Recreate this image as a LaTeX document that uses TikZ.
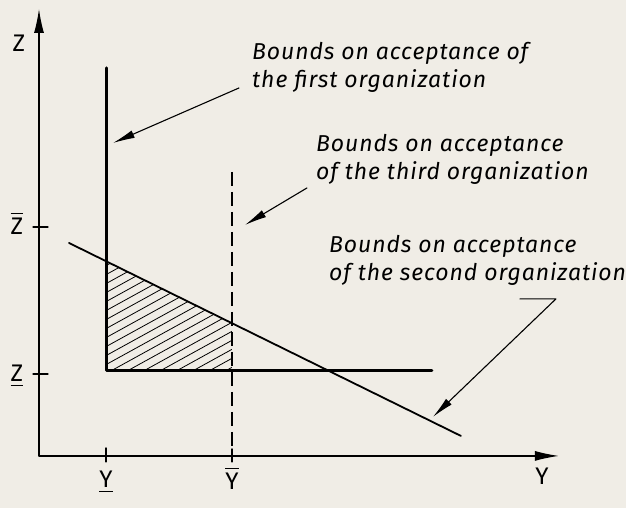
\documentclass[tikz,border=0pt]{standalone}
\usepackage{fontspec}
\setsansfont{Fira Sans}
\newfontfamily\lblfont[LetterSpace=4]{Fira Sans}
\usetikzlibrary{arrows.meta}
\definecolor{paper}{RGB}{240,237,230}
\newcommand{\ovbar}[1]{\setbox0\hbox{#1}\rlap{\rule[\dimexpr\ht0+4pt\relax]{\wd0}{1.3pt}}\box0}
\newcommand{\unbar}[1]{\setbox0\hbox{#1}\rlap{\rule[-4.5pt]{\wd0}{1.3pt}}\box0}
\begin{document}
\begin{tikzpicture}[
  x=1pt, y=-1pt,
  line cap=round, line join=round,
  axis/.style={draw=black, line width=1.2pt, -{Latex[length=24pt,width=10pt]}},
  first/.style={draw=black, line width=3pt},
  second/.style={draw=black, line width=1.8pt},
  third/.style={draw=black, line width=1.4pt, line cap=butt, dash pattern=on 14pt off 6pt},
  leader/.style={draw=black, line width=1.1pt, -{Latex[length=22pt,width=8pt]}},
  hatch/.style={draw=black, line width=0.8pt},
  tick/.style={draw=black, line width=1.2pt},
  lbl/.style={font=\lblfont\itshape\fontsize{23}{28.5}\selectfont, align=left, inner sep=0pt, anchor=base west},
  axlbl/.style={font=\sffamily\fontsize{24}{28}\selectfont, inner sep=0pt, anchor=base}
  ]

  \fill[paper] (0,0) rectangle (626,508);

  % axes
  \coordinate (O) at (39,456);
  \coordinate (ztip) at (39,9);
  \coordinate (ytip) at (559,456);
  \draw[axis] (O)--(ztip);
  \draw[axis] (O)--(ytip);

  \node[axlbl] (zlab) at (19,52) {Z};
  \node[axlbl] (ylab) at (542,485) {Y};

  % ticks
  \draw[tick] (33,227)--(48,227);
  \draw[tick] (33,374)--(48,374);
  \draw[tick] (106,448)--(106,462);
  \draw[tick] (232,449)--(232,462);
  \node[axlbl] (zhi) at (17,235) {\ovbar{Z}};
  \node[axlbl] (zlo) at (17,382) {\unbar{Z}};
  \node[axlbl] (ylo) at (106,488) {\unbar{Y}};
  \node[axlbl] (yhi) at (232,490) {\ovbar{Y}};

  % corners of the feasible region
  \coordinate (a) at (107,262);
  \coordinate (b) at (107,371);
  \coordinate (c) at (232,371);
  \coordinate (d) at (232,323);

  % hatching
  \begin{scope}
    \clip (a)--(b)--(c)--(d)--cycle;
    \foreach \c in {324,333,...,500}
      \draw[hatch] (100,{\c-55})--(240,{\c-132});
  \end{scope}

  % first organization
  \coordinate (f1) at (107,68);
  \coordinate (f2) at (432,371);
  \draw[first] (f1)--(b)--(f2);

  % second organization
  \coordinate (s1) at (69,243);
  \coordinate (s2) at (461,436);
  \draw[second] (s1)--(s2);

  % third organization
  \coordinate (t1) at (232,172);
  \coordinate (t2) at (232,446);
  \draw[third] (t1)--(t2);

  % labels (base = last line)
  \node[lbl] (lab1) at (252,88) {Bounds on acceptance of\\the first organization};
  \node[lbl] (lab2) at (316,180) {Bounds on acceptance\\of the third organization};
  \node[lbl] (lab3) at (329,281) {Bounds on acceptance\\of the second organization};

  % leaders
  \coordinate (p1) at (239,88);
  \coordinate (q1) at (113,143);
  \draw[leader] (p1)--(q1);
  \coordinate (p2) at (307,188);
  \coordinate (q2) at (245,225);
  \draw[leader] (p2)--(q2);
  \coordinate (p3) at (520,299);
  \coordinate (k3) at (556,299);
  \coordinate (q3) at (433,417);
  \draw[leader] (p3)--(k3)--(q3);
\end{tikzpicture}
\end{document}
